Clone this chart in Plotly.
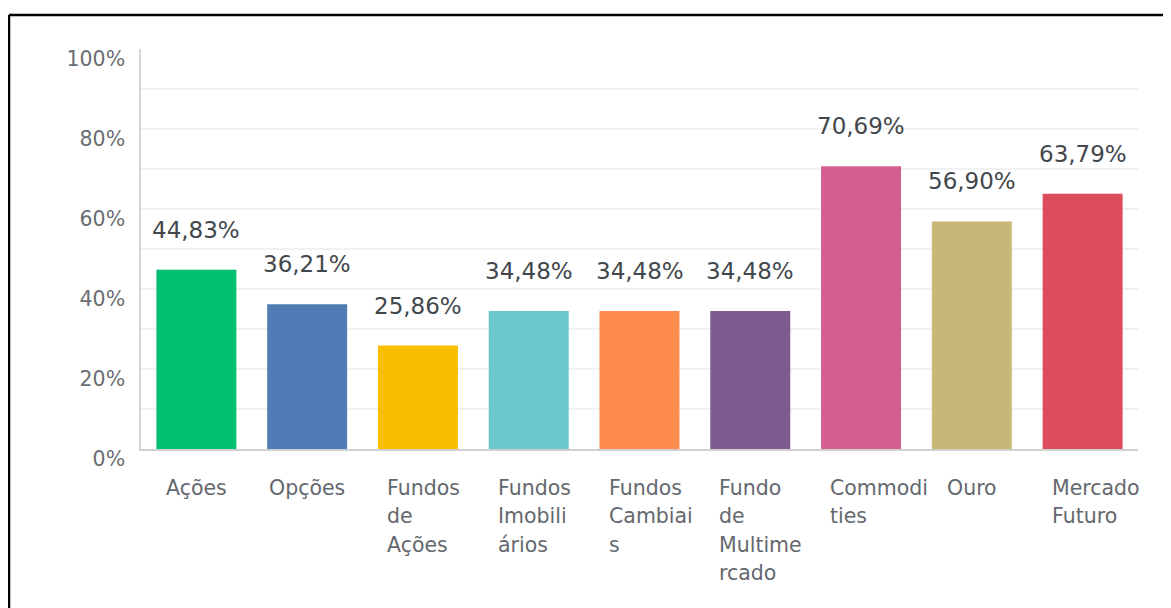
import plotly.graph_objects as go

categories = ["Ações", "Opções", "Fundos de Ações", "Fundos Imobiliários", "Fundos Cambiais",
              "Fundo de Multimercado", "Commodities", "Ouro", "Mercado Futuro"]
label_lines = [["Ações"], ["Opções"], ["Fundos", "de", "Ações"], ["Fundos", "Imobili", "ários"],
               ["Fundos", "Cambiai", "s"], ["Fundo", "de", "Multime", "rcado"],
               ["Commodi", "ties"], ["Ouro"], ["Mercado", "Futuro"]]
values = [44.83, 36.21, 25.86, 34.48, 34.48, 34.48, 70.69, 56.90, 63.79]
value_text = ["44,83%", "36,21%", "25,86%", "34,48%", "34,48%", "34,48%", "70,69%", "56,90%", "63,79%"]
colors = ["#00BF6F", "#507CB6", "#F9BE00", "#6BC8CD", "#FF8B4F", "#7F5A8F", "#D25F90", "#C7B879", "#DB4D5C"]
y_ticks = [0, 20, 40, 60, 80, 100]
y_ticktext = ["0%", "20%", "40%", "60%", "80%", "100%"]
grid_vals = [10, 20, 30, 40, 50, 60, 70, 80, 90]

FONT = "DejaVu Sans"

fig = go.Figure()
fig.add_trace(go.Bar(x=categories, y=values, marker=dict(color=colors, line=dict(width=0)),
                     hoverinfo="skip", showlegend=False))

annotations = []
for c, v, t in zip(categories, values, value_text):
    annotations.append(dict(x=c, y=v, xref="x", yref="y", text=t, showarrow=False,
                            xanchor="center", yanchor="middle", yshift=40,
                            font=dict(family=FONT, size=23, color="#42474c")))
for c, lines in zip(categories, label_lines):
    for i, ln in enumerate(lines):
        if len(lines) == 1:
            xa, xs = "center", 0
        else:
            xa, xs = "left", -33
        annotations.append(dict(x=c, y=0, xref="x", yref="y", text=ln, showarrow=False,
                                xanchor=xa, xshift=xs, yanchor="middle", yshift=-(38.5 + 28.5 * i),
                                font=dict(family=FONT, size=20.5, color="#64686d")))

shapes = []
for g in grid_vals:
    shapes.append(dict(type="line", xref="paper", yref="y", x0=0, x1=1, y0=g, y1=g,
                       line=dict(color="#ececec", width=1.5), layer="below"))

# page body adds an 8px offset; figure coordinates are relative to it
OFF = 8
W, H = 1171, 608 - OFF
L, R, T, B = 141 - OFF, 33 + OFF, 49 - OFF, 159
pw = W - L - R
ph = H - T - B
fx = (9 - OFF - L) / pw
fy = (ph + T - (15 - OFF)) / ph
shapes.append(dict(type="line", xref="paper", yref="paper", x0=fx, x1=(W - L + 5) / pw, y0=fy, y1=fy,
                   line=dict(color="#000000", width=2.5)))
shapes.append(dict(type="line", xref="paper", yref="paper", x0=fx, x1=fx, y0=fy, y1=-(B + 5) / ph,
                   line=dict(color="#000000", width=2.5)))

fig.update_layout(
    width=W, height=H,
    margin=dict(l=L, r=R, t=T, b=B),
    paper_bgcolor="white", plot_bgcolor="white",
    bargap=0.278,
    xaxis=dict(showticklabels=False, showgrid=False, showline=True, linecolor="#d0d0d0",
               linewidth=1.5, ticks="", range=[-0.5, 8.5], fixedrange=True),
    yaxis=dict(range=[0, 100], tickvals=y_ticks, ticktext=y_ticktext, showgrid=False,
               zeroline=False, showline=True, linecolor="#d6d6d6", linewidth=1.5, ticks="",
               ticklabelstandoff=10, ticklabelshift=10,
               tickfont=dict(family=FONT, size=20.5, color="#6a6e73")),
    annotations=annotations,
    shapes=shapes,
)

fig.write_html("out.html")
